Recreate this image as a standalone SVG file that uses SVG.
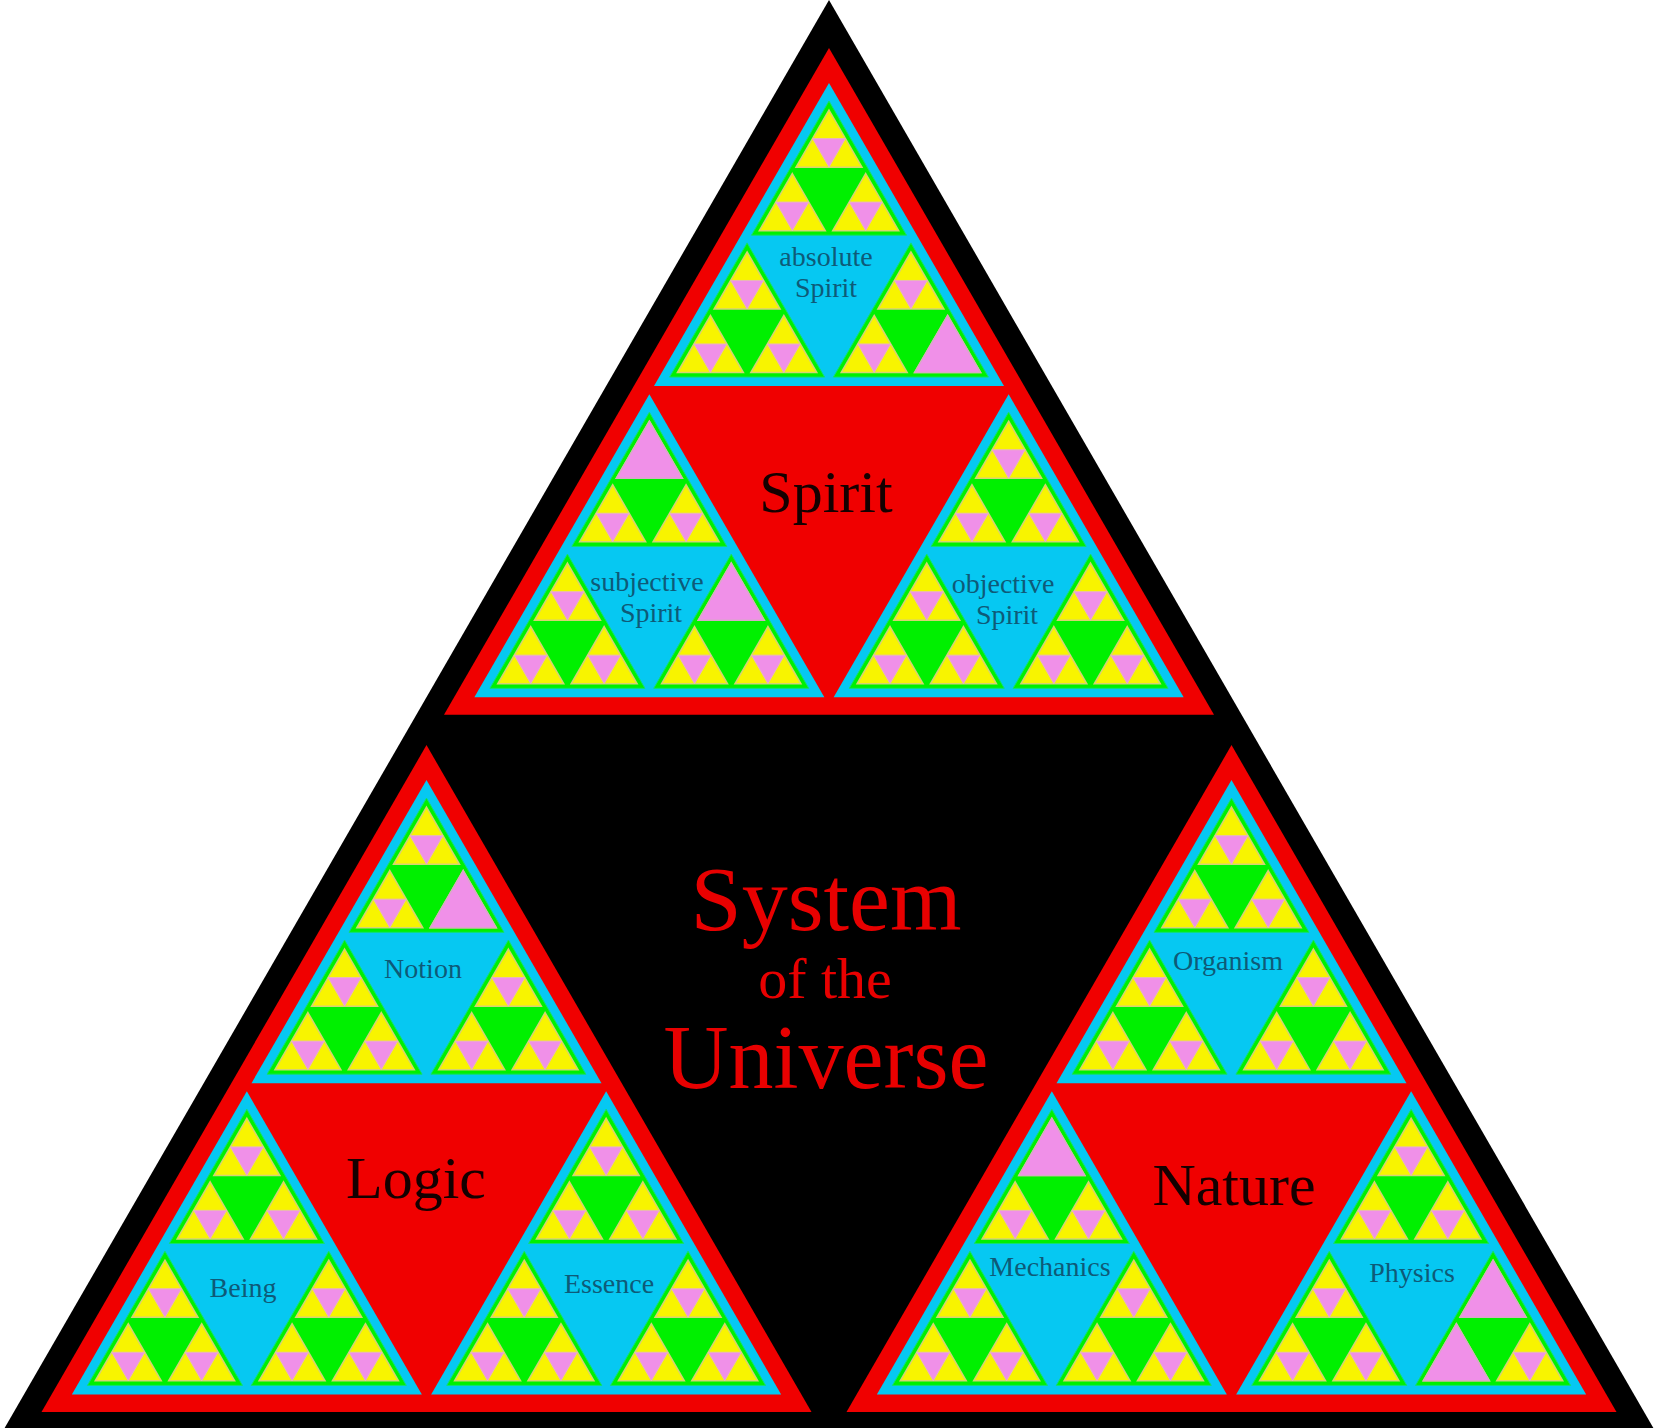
<svg xmlns="http://www.w3.org/2000/svg" width="1658" height="1428" viewBox="0 0 1658 1428">
<style>
.l1 { font-family: "Liberation Serif", "Times New Roman", serif; font-size: 60px; fill: #140000; text-anchor: middle; }
.l2 { font-family: "Liberation Serif", "Times New Roman", serif; font-size: 28px; fill: #0e5a78; text-anchor: middle; }
.sys { font-family: "Liberation Serif", "Times New Roman", serif; fill: #e80000; text-anchor: middle; }
</style>
<defs>
  <g id="L4">
    <polygon points="0,0 33,57.16 -33,57.16" fill="#f8f400" stroke="#d6d274" stroke-width="1.5"/>
    <polygon points="-16.5,28.58 16.5,28.58 0,57.16" fill="#f090e8" stroke="#e8b8b8" stroke-width="1"/>
  </g>
  <g id="P4">
    <polygon points="0,0 33,57.16 -33,57.16" fill="#f090e8" stroke="#d8a8c8" stroke-width="1.5"/>
  </g>
  <g id="L3">
    <polygon points="0,0 77.5,134.2 -77.5,134.2" fill="#00f000" stroke="#10e070" stroke-width="1"/>
    <use href="#L4" x="0" y="9"/>
    <use href="#L4" x="-36.7" y="72.5"/>
    <use href="#L4" x="36.7" y="72.5"/>
  </g>
  <g id="L2">
    <polygon points="0,0 175,303.1 -175,303.1" fill="#06c8f2"/>
    <use href="#L3" x="0" y="18"/>
    <use href="#L3" x="-81.9" y="159.9"/>
    <use href="#L3" x="81.9" y="159.9"/>
  </g>
  <polygon id="L1" points="0,0 385,666.8 -385,666.8" fill="#f00000"/>
</defs>
<rect width="1658" height="1428" fill="#ffffff"/>
<polygon id="universe" points="829,0 1658,1436 0,1436" fill="#000000"/>

<g id="spirit">
  <use href="#L1" x="829" y="48"/>
  <text class="l1" x="826" y="512">Spirit</text>
  <g id="absolute-spirit">
    <use href="#L2" x="829" y="83"/>
    <use href="#P4" x="947.6" y="315.4"/>
    <text class="l2" x="826" y="266">absolute</text>
    <text class="l2" x="826" y="297">Spirit</text>
  </g>
  <g id="subjective-spirit">
    <use href="#L2" x="649.35" y="394.2"/>
    <use href="#P4" x="649.35" y="421.2"/>
    <use href="#P4" x="731.25" y="563.1"/>
    <text class="l2" x="647" y="591">subjective</text>
    <text class="l2" x="651" y="622">Spirit</text>
  </g>
  <g id="objective-spirit">
    <use href="#L2" x="1008.65" y="394.2"/>
    <text class="l2" x="1003" y="593">objective</text>
    <text class="l2" x="1007" y="624">Spirit</text>
  </g>
</g>

<g id="logic">
  <use href="#L1" x="426.5" y="745.1"/>
  <text class="l1" x="416" y="1198">Logic</text>
  <g id="notion">
    <use href="#L2" x="426.5" y="780.1"/>
    <use href="#P4" x="463.2" y="870.6"/>
    <text class="l2" x="423" y="978">Notion</text>
  </g>
  <g id="being">
    <use href="#L2" x="246.85" y="1091.3"/>
    <text class="l2" x="243" y="1297">Being</text>
  </g>
  <g id="essence">
    <use href="#L2" x="606.15" y="1091.3"/>
    <text class="l2" x="609" y="1293">Essence</text>
  </g>
</g>

<g id="nature">
  <use href="#L1" x="1231.5" y="745.1"/>
  <text class="l1" x="1234" y="1205">Nature</text>
  <g id="organism">
    <use href="#L2" x="1231.5" y="780.1"/>
    <text class="l2" x="1228" y="970">Organism</text>
  </g>
  <g id="mechanics">
    <use href="#L2" x="1051.85" y="1091.3"/>
    <use href="#P4" x="1051.85" y="1118.3"/>
    <text class="l2" x="1050" y="1276">Mechanics</text>
  </g>
  <g id="physics">
    <use href="#L2" x="1411.15" y="1091.3"/>
    <use href="#P4" x="1456.35" y="1323.7"/>
    <use href="#P4" x="1493.05" y="1260.2"/>
    <text class="l2" x="1412" y="1282">Physics</text>
  </g>
</g>

<g id="system">
  <text class="sys" x="826" y="930" font-size="92">System</text>
  <text class="sys" x="825" y="998" font-size="58">of the</text>
  <text class="sys" x="826" y="1088" font-size="90">Universe</text>
</g>
</svg>
